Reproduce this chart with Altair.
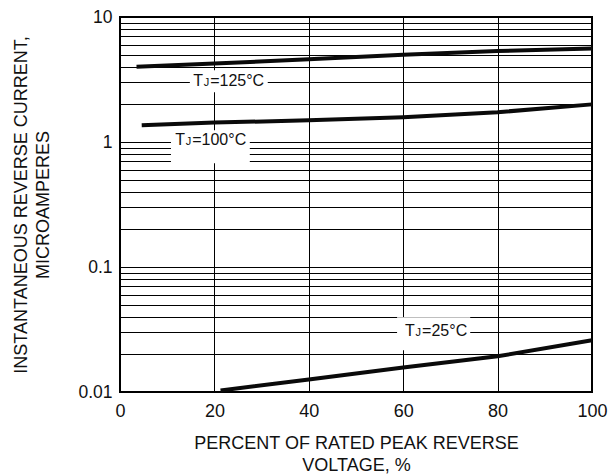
import altair as alt
import pandas as pd

# ---- data ----
x_125 = [3.5, 20, 40, 60, 80, 100]
y_125 = [4.0, 4.24, 4.59, 5.0, 5.35, 5.6]
x_100 = [4.6, 20, 40, 60, 80, 100]
y_100 = [1.36, 1.43, 1.49, 1.58, 1.73, 2.0]
x_25 = [21.3, 40, 60, 80, 100]
y_25 = [0.0103, 0.0126, 0.0157, 0.0193, 0.0259]

label_x = [15.5, 11.7, 60.4]
label_y = [3.05, 1.045, 0.0308]
label_rest = ["=125°C", "=100°C", "=25°C"]

box_x1 = [14.8, 10.8, 58.7]
box_x2 = [31.3, 27.5, 74.2]
box_y1 = [2.5, 0.675, 0.0216]
box_y2 = [3.75, 1.24, 0.0396]

x_ticks = [0, 20, 40, 60, 80, 100]
y_grid = [0.01, 0.02, 0.03, 0.04, 0.05, 0.06, 0.07, 0.08, 0.09,
          0.1, 0.2, 0.3, 0.4, 0.5, 0.6, 0.7, 0.8, 0.9,
          1, 2, 3, 4, 5, 6, 7, 8, 9, 10]
y_labels = [0.01, 0.1, 1, 10]

x_title = ["PERCENT OF RATED PEAK REVERSE", "VOLTAGE, %"]
y_title = ["INSTANTANEOUS REVERSE CURRENT,", "MICROAMPERES"]

FONT = "Liberation Sans, Arial, sans-serif"
INK = "#111111"

# ---- tables ----
curves = pd.concat([
    pd.DataFrame({"x": x_125, "y": y_125, "s": "125"}),
    pd.DataFrame({"x": x_100, "y": y_100, "s": "100"}),
    pd.DataFrame({"x": x_25, "y": y_25, "s": "25"}),
])
labels = pd.DataFrame({"x": label_x, "y": label_y, "rest": label_rest})
boxes = pd.DataFrame({"x1": box_x1, "x2": box_x2, "y1": box_y1, "y2": box_y2})

xscale = alt.Scale(domain=[0, 100], nice=False, zero=False)
yscale = alt.Scale(type="log", domain=[0.01, 10], nice=False)

label_expr = "indexof(" + str(y_labels) + ", datum.value) >= 0 ? datum.label : ''"

xaxis = alt.Axis(values=x_ticks, grid=True, ticks=False, domain=False,
                 labelFlush=False, labelPadding=10, labelFontSize=18,
                 title=x_title, titleFontSize=18, titleFontWeight="normal",
                 titleLineHeight=22, titleX=236, titleY=51,
                 titleBaseline="middle", titleAlign="center")
yaxis = alt.Axis(values=y_grid, grid=True, ticks=False, domain=False,
                 labelFlush=False, format="~g", labelExpr=label_expr,
                 labelPadding=8, labelFontSize=17.5, title=y_title,
                 titleFontSize=18, titleFontWeight="normal",
                 titleLineHeight=21.5, titleX=-98.5, titleY=187.5,
                 titleAngle=270, titleBaseline="middle", titleAlign="center")

lines = alt.Chart(curves).mark_line(strokeWidth=4, color="#0a0a0a", strokeCap="butt").encode(
    x=alt.X("x:Q", scale=xscale, axis=xaxis),
    y=alt.Y("y:Q", scale=yscale, axis=yaxis),
    detail="s:N",
)

rects = alt.Chart(boxes).mark_rect(color="white").encode(
    x=alt.X("x1:Q", scale=xscale), x2="x2:Q",
    y=alt.Y("y1:Q", scale=yscale), y2="y2:Q",
)

base_t = alt.Chart(labels).encode(
    x=alt.X("x:Q", scale=xscale), y=alt.Y("y:Q", scale=yscale)
)
t_T = base_t.mark_text(align="left", baseline="middle", fontSize=16, font=FONT,
                       color=INK).encode(text=alt.value("T"))
t_J = base_t.mark_text(align="left", baseline="middle", fontSize=11, font=FONT,
                       color=INK, dx=10.5, dy=2).encode(text=alt.value("J"))
t_R = base_t.mark_text(align="left", baseline="middle", fontSize=16, font=FONT,
                       color=INK, dx=17).encode(text="rest:N")

chart = alt.layer(rects, lines, t_T, t_J, t_R).properties(
    width=472, height=375,
    autosize=alt.AutoSizeParams(type="none"),
    padding={"left": 112, "top": 9, "right": 16, "bottom": 88},
).configure_view(
    stroke="#000000", strokeWidth=2
).configure_axis(
    gridColor="#000000", gridWidth=1, gridOpacity=1,
    labelFont=FONT, titleFont=FONT, labelColor=INK, titleColor=INK,
)

chart.save("out.html", embed_options={"renderer": "svg", "actions": False})
